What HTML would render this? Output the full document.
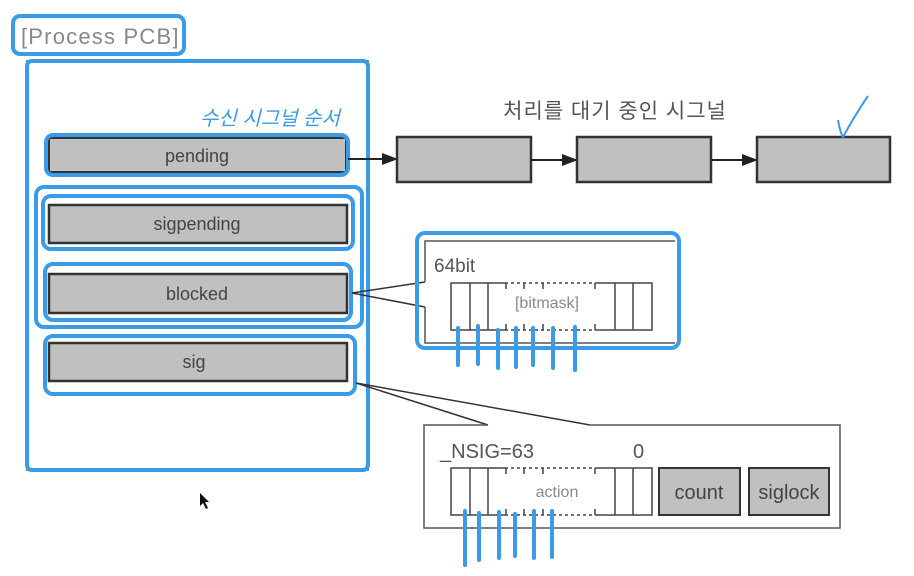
<!DOCTYPE html>
<html><head><meta charset="utf-8"><style>
html,body{margin:0;padding:0;background:#fff;}
svg{display:block;}
text{font-family:"Liberation Sans","Noto Sans CJK KR",sans-serif;}
</style></head><body>
<svg width="914" height="576" viewBox="0 0 914 576" xmlns="http://www.w3.org/2000/svg">
<defs><marker id="ar" markerWidth="8" markerHeight="8" refX="7" refY="4" orient="auto"><path d="M0,1 L8,4 L0,7 z" fill="#222"/></marker></defs>
<rect x="13" y="16" width="171" height="38" rx="7" fill="none" stroke="#3a9be8" stroke-width="4"/>
<text x="21" y="44" font-size="22" fill="#888" letter-spacing="1.2">[Process PCB]</text>
<rect x="27" y="61" width="341" height="409" fill="none" stroke="#333" stroke-width="1.5"/>
<rect x="27" y="61" width="341" height="409" rx="5" fill="none" stroke="#3a9be8" stroke-width="4"/>
<text x="200" y="125" font-size="20" fill="#3a9be8" font-style="italic">수신 시그널 순서</text>
<rect x="49" y="138" width="297" height="34" fill="#c0c0c0" stroke="#333" stroke-width="2"/>
<text x="197" y="162" font-size="18" fill="#444" text-anchor="middle">pending</text>
<rect x="46" y="135" width="302" height="40" rx="7" fill="none" stroke="#3a9be8" stroke-width="4"/>
<rect x="36" y="187" width="326" height="140" rx="8" fill="none" stroke="#3a9be8" stroke-width="4"/>
<rect x="49" y="205" width="298" height="38" fill="#c0c0c0" stroke="#333" stroke-width="2.5"/>
<text x="197" y="230" font-size="18" fill="#444" text-anchor="middle">sigpending</text>
<rect x="43" y="196" width="310" height="53" rx="8" fill="none" stroke="#3a9be8" stroke-width="4"/>
<rect x="49" y="274" width="298" height="39" fill="#c0c0c0" stroke="#333" stroke-width="2.5"/>
<text x="197" y="300" font-size="18" fill="#444" text-anchor="middle">blocked</text>
<rect x="45" y="264" width="306" height="56" rx="8" fill="none" stroke="#3a9be8" stroke-width="4"/>
<rect x="49" y="343" width="298" height="38" fill="#c0c0c0" stroke="#333" stroke-width="2.5"/>
<text x="194" y="368" font-size="18" fill="#444" text-anchor="middle">sig</text>
<rect x="45" y="336" width="310" height="58" rx="8" fill="none" stroke="#3a9be8" stroke-width="4"/>
<text x="615" y="118" font-size="21" fill="#555" text-anchor="middle" letter-spacing="1">처리를 대기 중인 시그널</text>
<line x1="348" y1="159" x2="396" y2="159" stroke="#222" stroke-width="2" marker-end="url(#ar)"/>
<rect x="397" y="137" width="134" height="45" fill="#c0c0c0" stroke="#333" stroke-width="2.5"/>
<line x1="531" y1="160" x2="576" y2="160" stroke="#222" stroke-width="2" marker-end="url(#ar)"/>
<rect x="577" y="137" width="134" height="45" fill="#c0c0c0" stroke="#333" stroke-width="2.5"/>
<line x1="711" y1="160" x2="756" y2="160" stroke="#222" stroke-width="2" marker-end="url(#ar)"/>
<rect x="757" y="137" width="133" height="45" fill="#c0c0c0" stroke="#333" stroke-width="2.5"/>
<path d="M838,120 Q840,132 843,137 Q855,115 868,96" fill="none" stroke="#3a9be8" stroke-width="2"/>
<line x1="352" y1="293" x2="425" y2="282" stroke="#333" stroke-width="1.5"/>
<line x1="352" y1="293" x2="425" y2="307" stroke="#333" stroke-width="1.5"/>
<path d="M425,282 L425,241 L675,241 M675,343 L425,343 L425,307" fill="none" stroke="#555" stroke-width="1.5"/>
<text x="434" y="272" font-size="19" fill="#555">64bit</text>
<g stroke="#444" stroke-width="1.5" fill="none">
<path d="M505,283 L451,283 L451,330 L505,330"/>
<path d="M598,283 L652,283 L652,330 L598,330"/>
<line x1="470" y1="283" x2="470" y2="330"/><line x1="488" y1="283" x2="488" y2="330"/>
<line x1="615" y1="283" x2="615" y2="330"/><line x1="633" y1="283" x2="633" y2="330"/>
<line x1="505" y1="283" x2="598" y2="283" stroke-dasharray="3,3"/>
<line x1="505" y1="330" x2="598" y2="330" stroke-dasharray="3,3"/>
<line x1="506" y1="283" x2="506" y2="289"/><line x1="524" y1="283" x2="524" y2="289"/><line x1="543" y1="283" x2="543" y2="289"/><line x1="595" y1="283" x2="595" y2="289"/>
<line x1="506" y1="324" x2="506" y2="330"/><line x1="524" y1="324" x2="524" y2="330"/><line x1="543" y1="324" x2="543" y2="330"/><line x1="595" y1="324" x2="595" y2="330"/>
</g>
<text x="547" y="308" font-size="16" fill="#888" text-anchor="middle">[bitmask]</text>
<rect x="417" y="233" width="262" height="115" rx="8" fill="none" stroke="#3a9be8" stroke-width="4"/>
<g stroke="#3a9be8" stroke-width="4" stroke-linecap="round">
<line x1="458" y1="328" x2="458" y2="365"/><line x1="478" y1="326" x2="478" y2="364"/><line x1="498" y1="330" x2="498" y2="368"/><line x1="516" y1="328" x2="516" y2="367"/><line x1="533" y1="328" x2="533" y2="365"/><line x1="553" y1="328" x2="553" y2="368"/><line x1="575" y1="327" x2="575" y2="370"/>
</g>
<line x1="356" y1="383" x2="488" y2="425" stroke="#333" stroke-width="1.5"/>
<line x1="356" y1="383" x2="590" y2="425" stroke="#333" stroke-width="1.5"/>
<path d="M488,425 L424,425 L424,528 L840,528 L840,425 L590,425" fill="none" stroke="#555" stroke-width="1.5"/>
<text x="440" y="458" font-size="20" fill="#555">_NSIG=63</text>
<text x="633" y="458" font-size="20" fill="#555">0</text>
<g stroke="#444" stroke-width="1.5" fill="none">
<path d="M505,468 L451,468 L451,515 L505,515"/>
<path d="M598,468 L652,468 L652,515 L598,515"/>
<line x1="470" y1="468" x2="470" y2="515"/><line x1="488" y1="468" x2="488" y2="515"/>
<line x1="615" y1="468" x2="615" y2="515"/><line x1="633" y1="468" x2="633" y2="515"/>
<line x1="505" y1="468" x2="598" y2="468" stroke-dasharray="3,3"/>
<line x1="505" y1="515" x2="598" y2="515" stroke-dasharray="3,3"/>
<line x1="506" y1="468" x2="506" y2="474"/><line x1="524" y1="468" x2="524" y2="474"/><line x1="543" y1="468" x2="543" y2="474"/><line x1="595" y1="468" x2="595" y2="474"/>
<line x1="506" y1="509" x2="506" y2="515"/><line x1="524" y1="509" x2="524" y2="515"/><line x1="543" y1="509" x2="543" y2="515"/><line x1="595" y1="509" x2="595" y2="515"/>
</g>
<text x="557" y="497" font-size="16" fill="#888" text-anchor="middle">action</text>
<rect x="659" y="468" width="81" height="47" fill="#c0c0c0" stroke="#333" stroke-width="2"/>
<text x="699" y="499" font-size="20" fill="#444" text-anchor="middle">count</text>
<rect x="749" y="468" width="80" height="47" fill="#c0c0c0" stroke="#333" stroke-width="2"/>
<text x="789" y="499" font-size="20" fill="#444" text-anchor="middle">siglock</text>
<g stroke="#3a9be8" stroke-width="4" stroke-linecap="round">
<line x1="465" y1="511" x2="465" y2="565"/><line x1="479" y1="513" x2="479" y2="560"/><line x1="499" y1="512" x2="499" y2="558"/><line x1="515" y1="514" x2="515" y2="556"/><line x1="534" y1="511" x2="534" y2="558"/><line x1="552" y1="511" x2="552" y2="557"/>
</g>
<path d="M200,493 L200,506 L203,503 L206,509 L208,508 L205,502 L209,502 z" fill="#111"/>
</svg>
</body></html>
